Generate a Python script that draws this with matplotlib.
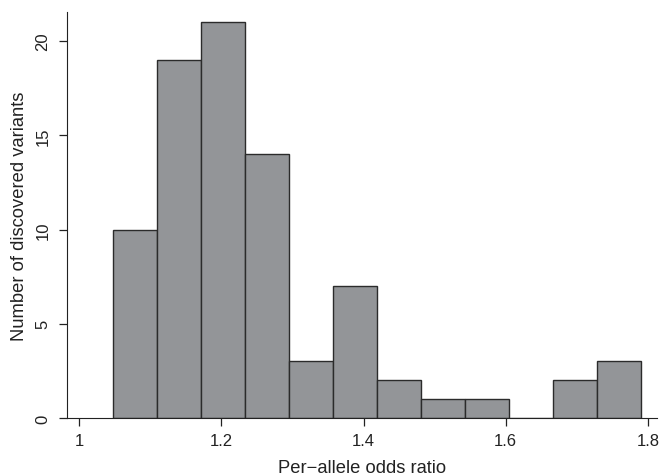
import numpy as np
import matplotlib
matplotlib.use("Agg")
import matplotlib.pyplot as plt

# histogram of per-allele odds ratios
bin_lo = 1.048
bin_hi = 1.790
counts = [10, 19, 21, 14, 3, 7, 2, 1, 1, 0, 2, 3]
x_ticks = [1, 1.2, 1.4, 1.6, 1.8]
y_ticks = [0, 5, 10, 15, 20]

plt.rcParams['font.family'] = ['Liberation Sans', 'DejaVu Sans']

edges = np.linspace(bin_lo, bin_hi, len(counts) + 1)
centers = (edges[:-1] + edges[1:]) / 2

fig = plt.figure(figsize=(6.62, 4.77), dpi=100)
ax = fig.add_axes([0.1012, 0.1216, 0.8912, 0.8511])

ax.hist(centers, bins=edges, weights=counts, color='#939598',
        edgecolor='#2b2b2b', linewidth=1.0)

ax.set_xlim(0.983, 1.8127)
ax.set_ylim(0, 21.54)

ax.spines['top'].set_visible(False)
ax.spines['right'].set_visible(False)
ax.spines['left'].set_color('#222222')
ax.spines['bottom'].set_color('#222222')

ax.set_xticks(x_ticks)
ax.set_xticklabels(['1', '1.2', '1.4', '1.6', '1.8'])
ax.set_yticks(y_ticks)
ax.tick_params(axis='both', length=6, width=0.9, color='#222222',
               labelsize=12, labelcolor='#222222')
ax.tick_params(axis='x', pad=5)
ax.tick_params(axis='y', pad=6)
for lab in ax.get_yticklabels():
    lab.set_rotation(90)
    lab.set_va('center')

ax.set_xlabel('Per\u2212allele odds ratio', fontsize=13.2, color='#222222', labelpad=8)
ax.set_ylabel('Number of discovered variants', fontsize=13.2, color='#222222', labelpad=5)

fig.savefig('out.png', dpi=100)
